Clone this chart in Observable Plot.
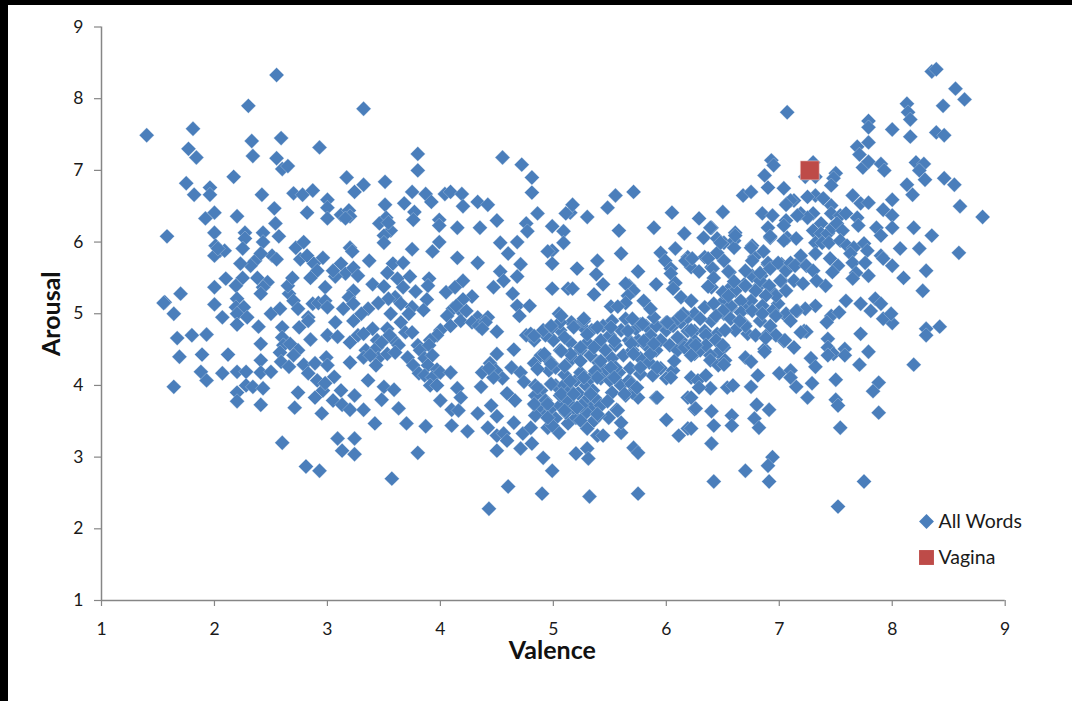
<!DOCTYPE html>
<html>
<head>
<meta charset="utf-8">
<script src="https://cdn.jsdelivr.net/npm/d3@7"></script>
<script src="https://cdn.jsdelivr.net/npm/@observablehq/plot@0.6"></script>
<style>
html,body{margin:0;padding:0;background:#000;overflow:hidden;width:1072px;height:701px}
#chart{position:absolute;left:8px;top:5px;width:1064px;height:696px;background:#fff}
svg{display:block;background:#fff}
</style>
</head>
<body>
<div id="chart"></div>
<script>
const valenceTicks = [1,2,3,4,5,6,7,8,9];
const arousalTicks = [1,2,3,4,5,6,7,8,9];
const vaginaWord = [[7.27,7.0]];
const legendLabels = ["All Words","Vagina"];

const wordsLowTop = [[1.4,7.49],[1.81,7.58],[1.77,7.3],[1.84,7.18],[2.3,7.9],[2.33,7.41],[2.34,7.2],[2.55,8.33],[2.59,7.45],[2.55,7.17],[2.6,7.02],[2.65,7.06],[2.93,7.32],[3.32,7.86],[1.75,6.82],[1.82,6.66],[1.96,6.76],[1.96,6.66],[2.17,6.91],[2.42,6.66],[2.7,6.68],[2.78,6.66],[2.87,6.72],[2.0,6.41],[1.92,6.33],[2.2,6.36],[2.53,6.47],[2.82,6.41],[2.54,6.26],[1.58,6.08],[2.0,6.13],[2.27,6.13],[2.27,6.05],[2.25,5.91],[2.43,6.13],[2.43,6.0],[2.57,6.08],[2.01,5.95],[2.05,5.88],[2.0,5.81],[2.09,5.88],[2.03,5.91],[2.72,5.92],[2.79,6.0],[2.51,5.81],[2.55,5.76],[2.36,5.74],[2.41,5.84],[2.32,5.67],[2.23,5.7],[2.76,5.76],[2.82,5.81],[2.88,5.7],[2.91,5.6],[2.1,5.49],[2.0,5.37],[2.25,5.5],[2.19,5.39],[2.38,5.5],[2.47,5.44],[2.43,5.37],[2.41,5.28],[1.7,5.28],[1.56,5.16],[1.55,5.15],[2.0,5.13],[1.64,5.0],[2.2,5.21],[2.19,5.09],[2.26,5.09],[2.2,5.0],[2.07,4.95],[2.29,4.95],[2.5,5.0],[2.58,5.07],[2.66,5.28],[2.7,5.18],[2.74,5.07],[2.65,5.39],[2.69,5.5],[2.85,5.5],[2.87,5.14],[2.83,4.95],[2.92,5.15]];

const wordsLowBottom = [[1.67,4.66],[1.8,4.7],[1.93,4.71],[1.69,4.4],[1.89,4.43],[2.12,4.43],[1.88,4.19],[1.93,4.07],[1.64,3.98],[2.07,4.17],[2.2,4.19],[2.28,4.19],[2.41,4.35],[2.41,4.18],[2.5,4.19],[2.41,4.58],[2.39,4.82],[2.2,4.85],[2.28,4.0],[2.34,3.98],[2.43,3.96],[2.2,3.9],[2.2,3.78],[2.41,3.73],[2.74,3.9],[2.89,3.83],[2.71,3.69],[2.95,3.61],[3.05,3.79],[3.13,3.73],[3.2,3.66],[3.32,3.66],[3.24,3.86],[3.12,3.93],[3.36,4.07],[3.5,3.98],[3.59,3.94],[3.48,3.8],[3.63,3.68],[3.42,3.47],[3.7,3.47],[3.09,3.26],[3.24,3.26],[3.13,3.09],[3.24,3.04],[2.6,3.2],[2.81,2.87],[2.93,2.81],[3.8,3.06],[3.57,2.7],[2.6,4.81],[2.75,4.81],[2.83,4.9],[3.07,4.88],[3.23,4.9],[3.4,4.79],[3.53,4.79],[3.65,4.88],[2.85,4.64],[3.0,4.7],[3.09,4.68],[2.6,4.67],[2.61,4.56],[2.58,4.46],[2.67,4.58],[2.74,4.49],[2.7,4.42],[2.59,4.33],[2.66,4.26],[2.79,4.29],[2.89,4.31],[2.99,4.39],[3.0,4.28],[2.83,4.17],[2.91,4.07],[3.06,4.12],[2.96,3.93],[2.98,4.03],[3.2,4.32],[3.2,4.6],[3.27,4.7],[3.32,4.72],[3.44,4.63],[3.34,4.49],[3.32,4.39],[3.44,4.53],[3.45,4.38],[3.43,4.28],[3.53,4.44],[3.59,4.63],[3.63,4.56],[3.69,4.74],[3.75,4.74],[3.71,4.39],[3.76,4.28],[3.8,4.56],[3.81,4.17],[3.48,4.6],[3.55,4.7],[3.38,4.42],[3.6,4.46]];

const wordsMidTop = [[3.8,7.23],[3.8,7.0],[4.55,7.18],[4.72,7.08],[4.81,6.9],[4.81,6.69],[4.86,6.4],[3.17,6.9],[3.32,6.8],[3.24,6.7],[3.51,6.84],[3.75,6.7],[3.87,6.67],[3.92,6.56],[4.04,6.67],[4.09,6.7],[4.19,6.67],[4.33,6.56],[4.42,6.52],[4.2,6.5],[3.68,6.54],[3.51,6.52],[3.77,6.42],[3.76,6.31],[3.0,6.59],[3.0,6.48],[3.0,6.33],[3.12,6.38],[3.19,6.44],[3.2,6.36],[3.16,6.33],[3.52,6.34],[3.46,6.26],[3.56,6.16],[3.5,6.09],[3.5,5.99],[3.54,6.27],[3.99,6.31],[3.99,6.23],[4.15,6.2],[4.35,6.2],[4.5,6.3],[4.76,6.26],[4.77,6.15],[4.99,6.22],[5.15,6.41],[5.11,6.4],[5.09,6.15],[5.09,5.99],[4.53,5.99],[4.68,6.0],[4.6,5.84],[4.71,5.69],[4.99,5.88],[4.95,5.87],[4.99,5.7],[3.99,6.0],[3.93,5.87],[3.75,5.9],[3.2,5.92],[3.22,5.87],[3.37,5.74],[4.15,5.78],[4.33,5.71],[4.53,5.59],[4.68,5.52],[4.47,5.37],[4.56,5.46],[4.64,5.28],[4.99,5.35],[5.13,5.35],[4.68,5.11],[4.79,5.11],[4.7,4.97],[5.05,5.0],[2.96,5.78],[3.12,5.7],[3.16,5.56],[3.23,5.64],[3.27,5.53],[3.07,5.52],[3.4,5.41],[3.5,5.38],[3.23,5.32],[3.19,5.23],[3.23,5.14],[3.14,5.07],[3.36,5.07],[2.98,5.37],[2.98,5.18],[3.0,5.09],[3.58,5.7],[3.53,5.57],[3.67,5.71],[3.62,5.49],[3.73,5.52],[3.67,5.37],[3.78,5.31],[3.9,5.49],[3.89,5.39],[3.88,5.2],[3.6,5.23],[3.54,5.21],[3.65,5.14],[3.75,5.09],[3.72,5.0],[3.56,5.0],[4.05,5.3],[4.13,5.37],[4.2,5.46],[4.28,5.24],[4.2,5.2],[4.11,5.07],[4.18,5.04],[4.06,4.97],[4.33,4.95],[4.42,4.95],[4.0,4.77],[4.09,4.83],[3.97,4.7],[3.91,4.63],[4.18,4.9],[4.14,5.11],[4.23,5.04],[4.28,4.88],[4.34,4.83],[4.4,4.88],[3.05,5.6],[3.3,5.0],[3.45,5.15],[3.85,5.05]];

const wordsMidBottom = [[3.82,4.49],[3.9,4.56],[3.86,4.38],[3.93,4.42],[3.89,4.28],[3.97,4.22],[3.86,4.14],[3.93,4.11],[4.0,4.18],[3.91,4.0],[3.97,4.0],[4.09,4.18],[4.5,4.75],[4.37,4.79],[4.5,4.44],[4.65,4.5],[4.37,4.18],[4.44,4.31],[4.49,4.21],[4.55,4.1],[4.47,4.11],[4.43,4.24],[4.36,3.98],[4.63,4.25],[4.71,4.18],[4.74,4.05],[4.83,4.31],[4.89,4.42],[4.96,4.35],[5.06,4.49],[4.96,4.21],[4.59,3.89],[4.66,3.79],[4.45,3.72],[4.5,3.57],[4.33,3.61],[4.15,3.96],[4.18,3.83],[4.1,3.66],[4.16,3.65],[4.0,3.79],[4.1,3.44],[3.87,3.43],[4.24,3.36],[4.42,3.41],[4.65,3.48],[4.5,3.3],[4.56,3.33],[4.59,3.23],[4.5,3.09],[4.71,3.12],[4.73,3.33],[4.8,3.41],[4.81,3.19],[4.91,2.99],[4.99,2.81],[4.6,2.59],[4.43,2.28],[4.9,2.49],[5.32,2.45],[5.75,2.49],[5.2,3.05],[5.3,3.12],[5.31,2.98],[5.71,3.13],[5.75,3.06],[6.0,3.52],[6.11,3.3],[6.19,3.4],[5.91,3.83],[5.75,3.83],[5.6,3.34],[5.6,3.48],[5.56,3.66],[5.49,3.55],[5.39,3.3],[5.44,3.3],[5.3,3.4],[5.36,3.51],[5.05,3.34],[4.95,3.41],[5.13,3.47],[5.2,3.55],[4.84,4.0],[4.89,3.93],[4.84,3.86],[4.93,3.79],[4.84,3.72],[4.89,3.65],[4.93,3.58],[4.84,3.58],[4.98,3.68],[5.02,3.54],[4.99,3.44],[5.06,3.72],[5.11,3.62],[5.06,3.86],[5.13,3.79],[5.18,3.69],[5.02,4.0],[5.09,4.0],[5.15,3.93],[5.22,3.89],[5.2,4.07],[5.29,4.0],[5.24,4.18],[5.33,4.1],[5.35,3.93],[5.29,3.79],[5.37,3.82],[5.33,3.68],[5.42,3.72],[5.4,3.58],[5.29,3.62],[5.24,3.51],[5.11,4.28],[5.17,4.38],[5.24,4.49],[5.33,4.42],[5.4,4.32],[5.46,4.49],[5.46,4.21],[5.52,4.38],[5.42,4.1],[5.5,4.07],[5.58,4.18],[5.52,3.9],[5.6,4.0],[5.64,3.86],[5.67,4.07],[5.68,4.24],[5.62,4.42],[5.7,4.49],[5.77,4.38],[5.82,4.56],[5.75,4.63],[5.86,4.7],[5.95,4.63],[6.0,4.77],[5.91,4.49],[5.85,4.32],[5.95,4.24],[5.88,4.14],[6.0,4.1],[6.06,4.21],[5.77,4.16],[5.7,3.9],[6.03,4.56],[6.1,4.49],[6.13,4.63],[5.42,4.63],[5.5,4.7],[5.6,4.77],[5.55,4.56],[5.67,4.63],[5.73,4.79],[5.82,4.83],[5.91,4.83],[6.0,4.88],[6.06,4.83],[6.13,4.88],[5.64,4.93],[5.52,4.9],[5.44,4.83],[5.34,4.77],[5.25,4.83],[5.16,4.88],[5.06,4.77],[5.0,4.63],[4.93,4.7],[4.83,4.63],[4.76,4.7],[4.91,4.77],[4.8,4.72],[4.99,4.81],[5.06,4.88],[5.15,4.6],[5.3,4.6],[5.1,4.15],[5.37,4.2],[5.02,4.25],[5.55,4.25],[5.25,3.72]];

const wordsDenseCentre = [[5.07,4.97],[4.98,4.83],[4.83,4.69],[5.18,4.81],[5.1,4.67],[5.27,4.9],[5.39,4.81],[5.3,4.71],[5.51,4.81],[5.66,4.76],[5.77,4.85],[5.89,4.95],[6.04,4.85],[6.19,4.95],[6.25,4.76],[6.1,4.67],[5.8,4.62],[5.69,4.58],[5.54,4.62],[5.36,4.53],[5.24,4.53],[5.15,4.44],[5.07,4.48],[4.92,4.44],[4.86,4.23],[4.98,4.3],[5.1,4.27],[5.24,4.34],[5.42,4.34],[5.51,4.25],[5.71,4.44],[5.86,4.44],[5.89,4.58],[6.16,4.53],[6.25,4.44],[6.07,4.34],[6.04,4.11],[5.92,4.25],[5.77,4.25],[5.69,4.02],[5.54,4.11],[5.39,4.11],[5.27,4.11],[5.15,4.06],[4.98,4.02],[4.86,3.97],[4.83,3.74],[4.95,3.74],[5.07,3.88],[5.18,3.88],[5.33,3.88],[5.48,3.78],[5.63,3.88],[5.74,3.97],[5.92,3.83],[6.22,4.11],[6.19,3.83],[6.25,3.67],[5.57,3.65],[5.21,3.69],[5.1,3.65],[4.95,3.55],[5.39,3.6]];

const wordsDenseRight = [[6.19,5.79],[6.34,5.79],[6.4,5.65],[6.22,5.65],[6.56,5.58],[6.78,5.79],[6.9,5.69],[7.02,5.69],[7.19,5.74],[7.02,5.46],[7.13,5.46],[6.84,5.53],[6.69,5.41],[6.81,5.37],[6.57,5.37],[6.93,5.32],[6.4,5.37],[6.22,5.18],[6.34,5.09],[6.51,5.18],[6.72,5.09],[6.57,5.09],[6.25,5.0],[6.4,4.9],[6.51,5.0],[6.69,4.86],[6.84,5.04],[6.99,5.14],[7.07,4.95],[7.16,5.04],[7.22,4.76],[7.04,4.62],[6.9,4.72],[6.72,4.72],[6.45,4.72],[6.34,4.76],[6.19,4.76],[6.25,4.62],[6.51,4.53],[6.87,4.51]];

const wordsHighTop = [[5.55,6.65],[5.71,6.7],[5.48,6.48],[5.3,6.35],[5.17,6.52],[6.05,6.41],[6.29,6.33],[6.5,6.42],[5.58,6.16],[5.89,6.2],[6.16,6.12],[6.4,6.2],[6.33,6.06],[6.45,6.05],[6.51,5.99],[6.61,6.13],[6.6,6.02],[6.6,5.92],[6.68,6.65],[6.75,6.7],[6.9,6.76],[7.04,6.75],[6.85,6.4],[6.94,6.37],[7.07,6.54],[7.13,6.58],[7.06,6.3],[7.04,6.23],[6.9,6.2],[6.92,6.06],[7.07,6.06],[6.76,5.95],[6.86,5.87],[6.76,5.74],[6.9,5.71],[5.6,5.84],[5.39,5.74],[5.38,5.55],[5.44,5.41],[5.36,5.27],[5.21,5.63],[5.17,5.35],[5.75,5.59],[5.91,5.41],[5.95,5.85],[5.99,5.74],[6.04,5.63],[6.04,5.56],[6.08,5.91],[6.17,5.74],[6.23,5.77],[6.37,5.77],[6.29,5.59],[6.41,5.63],[6.51,5.74],[6.55,5.59],[6.42,5.5],[6.08,5.43],[6.06,5.35],[5.67,5.39],[5.64,5.42],[5.71,5.32],[5.66,5.25],[5.64,5.15],[5.8,5.18],[5.86,5.07],[5.51,5.1],[5.57,5.1],[5.7,4.93],[5.27,4.93],[5.79,4.86],[6.13,5.23],[6.22,5.18],[6.15,5.0],[6.1,4.93],[6.01,4.88],[6.37,5.38],[6.42,5.14],[6.61,5.32],[6.7,5.39],[6.76,5.53],[6.83,5.46],[6.91,5.39],[6.97,5.25],[6.88,5.25],[6.79,5.32],[6.75,5.18],[6.66,5.18],[6.57,5.11],[6.5,5.04],[6.44,4.97],[6.57,4.93],[6.66,5.02],[6.76,5.04],[6.85,5.11],[6.94,5.04],[6.7,4.83],[6.61,4.77],[6.52,4.77],[6.83,4.9],[6.92,4.83],[6.79,4.7],[6.97,4.7],[6.88,4.66],[6.3,4.93],[6.22,4.77],[6.35,4.7],[6.44,4.63],[6.13,4.97],[6.22,4.56],[6.3,4.49],[6.46,4.46],[6.39,4.42],[6.35,4.56],[6.83,5.57],[6.92,5.63],[6.99,5.71],[7.06,5.6],[7.1,5.71],[7.01,5.46],[7.14,5.67],[7.06,5.32],[6.26,4.56],[6.22,4.42],[6.39,4.35],[6.46,4.28],[6.5,4.56],[6.52,4.35],[6.6,5.45],[6.5,5.3],[6.7,5.6],[6.45,5.85],[6.85,5.0],[6.65,4.9],[6.55,5.25]];

const wordsHighBottom = [[7.24,4.75],[7.72,4.72],[8.0,4.87],[8.3,4.79],[8.3,4.7],[8.42,4.82],[7.05,4.63],[7.13,4.53],[7.43,4.65],[7.43,4.53],[7.48,4.44],[7.58,4.51],[7.58,4.42],[7.43,4.42],[7.79,4.47],[7.71,4.29],[8.19,4.29],[6.87,4.47],[6.7,4.39],[6.75,4.33],[6.51,4.29],[7.28,4.38],[7.32,4.26],[7.0,4.17],[7.1,4.21],[7.1,4.11],[6.81,4.14],[6.75,3.98],[7.5,4.08],[7.29,4.03],[7.15,3.98],[7.88,4.04],[7.83,3.92],[7.25,3.83],[7.5,3.8],[7.52,3.72],[7.88,3.62],[7.54,3.41],[6.8,3.73],[6.91,3.66],[6.78,3.54],[6.82,3.41],[6.58,3.58],[6.58,3.44],[6.4,3.64],[6.42,3.44],[6.4,3.19],[6.54,3.97],[6.59,4.0],[6.39,3.96],[6.28,4.07],[6.35,4.14],[6.29,3.97],[6.26,3.68],[6.22,3.83],[6.22,3.4],[6.94,3.0],[6.9,2.88],[6.7,2.81],[6.42,2.66],[6.91,2.66],[7.75,2.66],[7.52,2.31]];

const wordsRight = [[7.07,7.81],[6.93,7.14],[6.95,7.07],[6.87,6.93],[7.3,7.11],[7.23,6.91],[7.32,6.91],[7.5,6.96],[7.48,6.89],[7.46,6.79],[7.32,6.65],[7.25,6.63],[7.39,6.61],[7.46,6.51],[7.1,6.58],[7.06,6.52],[7.65,6.65],[7.72,6.54],[7.79,6.55],[7.92,6.45],[8.0,6.59],[8.0,6.37],[8.0,6.2],[7.86,6.2],[7.9,6.09],[8.19,6.2],[8.35,6.09],[8.6,6.5],[8.8,6.35],[8.59,5.85],[8.24,5.91],[8.07,5.91],[7.9,5.81],[7.79,7.69],[7.79,7.6],[7.79,7.39],[7.69,7.33],[7.71,7.22],[7.74,7.04],[7.79,7.12],[7.9,7.09],[7.93,7.0],[8.0,7.57],[8.13,7.93],[8.14,7.81],[8.16,7.71],[8.16,7.47],[8.35,8.38],[8.39,8.41],[8.56,8.14],[8.64,7.99],[8.45,7.9],[8.39,7.53],[8.46,7.49],[8.21,7.11],[8.28,7.09],[8.24,7.0],[8.29,6.87],[8.46,6.89],[8.55,6.8],[8.13,6.8],[8.18,6.66],[7.19,6.4],[7.3,6.4],[7.25,6.34],[7.16,6.37],[6.92,6.08],[7.3,6.16],[7.37,6.26],[7.46,6.4],[7.54,6.37],[7.59,6.4],[7.69,6.34],[7.7,6.23],[7.37,6.12],[7.43,6.12],[7.47,6.2],[7.51,6.26],[7.56,6.16],[7.32,5.99],[7.38,5.99],[7.44,5.99],[7.54,6.02],[7.6,5.95],[7.32,5.84],[7.19,5.81],[7.15,6.05],[7.04,6.02],[6.75,5.92],[6.61,6.09],[6.48,5.99],[6.39,6.2],[7.75,5.98],[7.66,5.92],[7.78,5.88],[7.63,5.84],[7.24,5.67],[7.3,5.6],[7.45,5.77],[7.52,5.67],[7.47,5.58],[7.41,5.39],[7.65,5.71],[7.68,5.57],[7.65,5.49],[7.76,5.71],[7.79,5.53],[7.59,5.18],[7.33,5.46],[7.21,5.42],[7.32,5.11],[7.23,5.07],[7.06,5.0],[7.15,5.04],[7.46,4.97],[7.53,5.02],[7.42,4.88],[7.72,5.14],[7.81,5.04],[7.85,5.21],[7.9,5.14],[7.92,4.93],[7.99,5.0],[7.92,5.77],[8.0,5.67],[8.1,5.5],[8.3,5.6],[8.27,5.32],[7.1,4.9],[7.19,4.74],[6.97,4.97]];

const allWords = [...wordsLowTop,...wordsLowBottom,...wordsMidTop,...wordsMidBottom,...wordsDenseCentre,...wordsDenseRight,...wordsHighTop,...wordsHighBottom,...wordsRight];
const axisGrey = "#868686", blue = "#4a7ebb", red = "#be4b48", textColor = "#1a1a1a";
const font = "Lato, 'Open Sans', sans-serif";

const plot = Plot.plot({
  width: 1064, height: 696,
  marginLeft: 93, marginRight: 67.3, marginTop: 21.5, marginBottom: 101,
  style: {background:"#fff", fontFamily: font, color: textColor},
  x: {domain:[1,9]},
  y: {domain:[1,9]},
  marks: [
    Plot.axisX({ticks:valenceTicks, tickSize:6, tickPadding:16, stroke:axisGrey, strokeWidth:1.2, fontSize:17.5, label:null, fill:textColor, tickFormat:d=>d}),
    Plot.axisY({ticks:arousalTicks, tickSize:7, tickPadding:11, stroke:axisGrey, strokeWidth:1.2, fontSize:17.5, label:null, fill:textColor, tickFormat:d=>d}),
    Plot.ruleX([1],{stroke:axisGrey,strokeWidth:1.5}),
    Plot.ruleY([1],{stroke:axisGrey,strokeWidth:1.5}),
    Plot.dot(allWords,{x:d=>d[0],y:d=>d[1],symbol:"diamond2",r:6.7,fill:blue,stroke:"#dce6f2",strokeWidth:0.3}),
    Plot.dot(vaginaWord,{x:d=>d[0],y:d=>d[1],symbol:"square",r:10.7,fill:red,stroke:"#f2dcdb",strokeWidth:0.5}),
    Plot.text(["Valence"],{frameAnchor:"bottom",lineAnchor:"middle",dy:50,dx:-1,fontSize:25,fontWeight:700,fill:"#111"}),
    Plot.text(["Arousal"],{frameAnchor:"left",rotate:-90,textAnchor:"middle",lineAnchor:"middle",dx:-50,dy:0,fontSize:25,fontWeight:700,fill:"#111"}),
    Plot.dot(legendLabels.slice(0,1),{frameAnchor:"bottom-right",dx:-78.7,dy:-79,symbol:"diamond2",r:6.7,fill:blue}),
    Plot.dot(legendLabels.slice(1),{frameAnchor:"bottom-right",dx:-78.7,dy:-43,symbol:"square",r:8.4,fill:red}),
    Plot.text(legendLabels.slice(0,1),{frameAnchor:"bottom-right",dx:-66.7,dy:-79,textAnchor:"start",lineAnchor:"middle",fontSize:19.5,fill:textColor}),
    Plot.text(legendLabels.slice(1),{frameAnchor:"bottom-right",dx:-66.7,dy:-43,textAnchor:"start",lineAnchor:"middle",fontSize:19.5,fill:textColor})
  ]
});
document.getElementById("chart").appendChild(plot);
</script>
</body>
</html>
